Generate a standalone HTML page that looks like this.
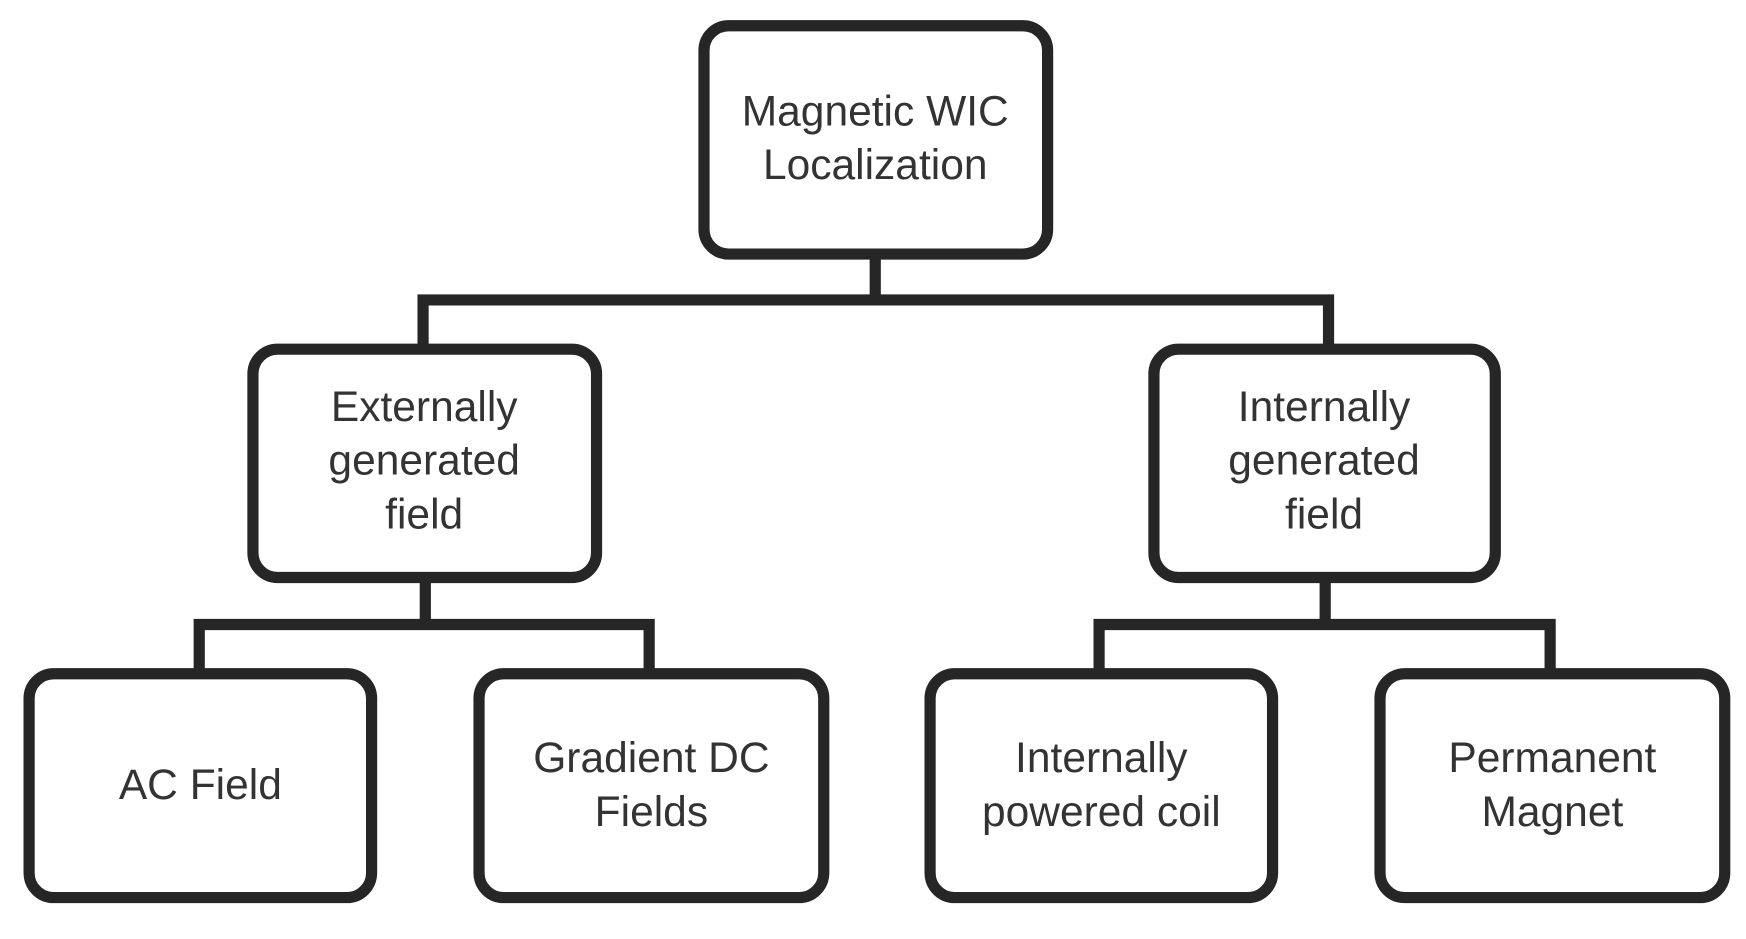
<!DOCTYPE html>
<html><head><style>html,body{margin:0;padding:0;background:#fff;}svg{display:block}</style></head>
<body>
<svg width="1746" height="939" viewBox="0 0 1560 839" preserveAspectRatio="none" xmlns="http://www.w3.org/2000/svg">
<g fill="none" stroke="#262626" stroke-width="10">
<rect x="629" y="23" width="307" height="204" rx="22"/>
<rect x="226" y="312" width="307" height="204" rx="22"/>
<rect x="1031" y="312" width="305" height="204" rx="22"/>
<rect x="26" y="602" width="306" height="200" rx="22"/>
<rect x="428" y="602" width="308" height="200" rx="22"/>
<rect x="831" y="602" width="306" height="200" rx="22"/>
<rect x="1233" y="602" width="308" height="200" rx="22"/>
<path d="M782 227V268M378 312V268H1187V312"/>
<path d="M380 516V558M178 602V558H580V602"/>
<path d="M1184 516V558M982 602V558H1385V602"/>
</g>
<g font-family="Liberation Sans, sans-serif" font-size="38" fill="#333" text-anchor="middle" textLength="">
<text x="782" y="112">Magnetic WIC</text>
<text x="782" y="160">Localization</text>
<text x="379" y="376">Externally</text>
<text x="379" y="424">generated</text>
<text x="379" y="472">field</text>
<text x="1183" y="376">Internally</text>
<text x="1183" y="424">generated</text>
<text x="1183" y="472">field</text>
<text x="179" y="714">AC Field</text>
<text x="582" y="690">Gradient DC</text>
<text x="582" y="738">Fields</text>
<text x="984" y="690">Internally</text>
<text x="984" y="738">powered coil</text>
<text x="1387" y="690">Permanent</text>
<text x="1387" y="738">Magnet</text>
</g>
</svg>
</body></html>
